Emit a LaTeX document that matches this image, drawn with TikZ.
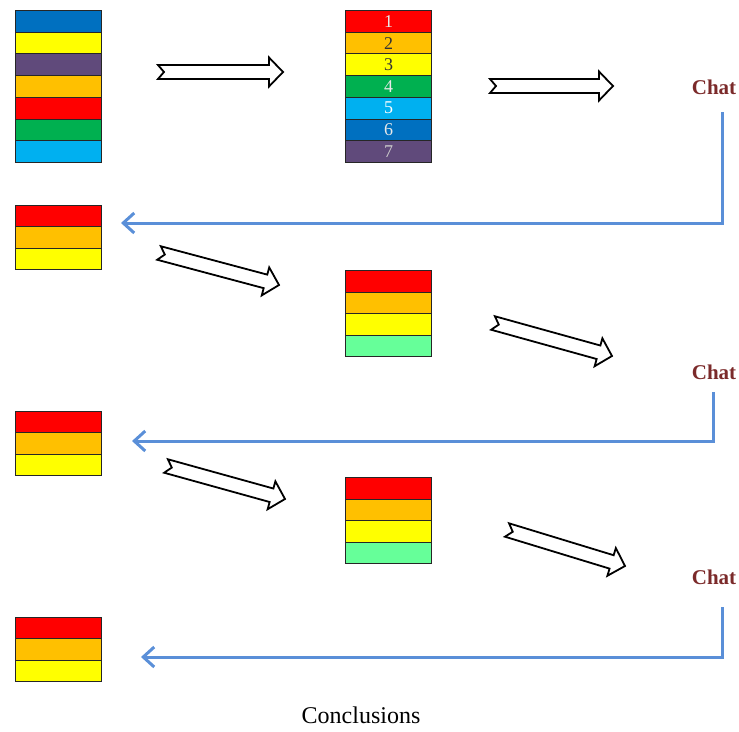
\documentclass[tikz,border=0pt]{standalone}
\usepackage{fontspec}
\setmainfont{Liberation Serif}
\usetikzlibrary{calc,arrows.meta}
\definecolor{cdblue}{HTML}{0070C0}
\definecolor{cyel}{HTML}{FFFF00}
\definecolor{cpurp}{HTML}{604A7B}
\definecolor{corng}{HTML}{FFC000}
\definecolor{cred}{HTML}{FF0000}
\definecolor{cgreen}{HTML}{00B050}
\definecolor{clblue}{HTML}{00B0F0}
\definecolor{cmint}{HTML}{66FF99}
\definecolor{cchat}{HTML}{7B2A2A}
\definecolor{cline}{HTML}{5A8FD8}
\definecolor{cnum}{HTML}{E8E8E8}
\tikzset{
  barbox/.style={draw=black!85, line width=1pt, minimum width=86pt, minimum height=21.7pt,
    inner sep=0pt, anchor=north west, font=\fontsize{18}{18}\selectfont},
  blockarr/.style={draw=black, line width=1.8pt, fill=white, line join=miter},
  chat/.style={font=\fontsize{21}{21}\selectfont\bfseries, text=cchat, inner sep=1pt},
  feedback/.style={draw=cline, line width=3pt, -{Straight Barb[length=11pt,width=20pt,line width=3pt]}},
  caption/.style={font=\fontsize{24}{24}\selectfont}
}
\newcommand\blockarrow[2]{%
  \draw[blockarr] ($(#1)!7pt!90:(#2)$) -- ($(#2)!14pt!(#1)!7pt!-90:(#1)$)
    -- ($(#2)!14pt!(#1)!14.5pt!-90:(#1)$) -- (#2)
    -- ($(#2)!14pt!(#1)!14.5pt!90:(#1)$) -- ($(#2)!14pt!(#1)!7pt!90:(#1)$)
    -- ($(#1)!7pt!-90:(#2)$) -- ($(#1)!6pt!(#2)$) -- cycle;}
\begin{document}
\begin{tikzpicture}[x=1pt,y=-1pt]
\useasboundingbox (0,0) rectangle (739,731);
% stack 1 (unsorted)
\foreach \c [count=\i from 0] in {cdblue,cyel,cpurp,corng,cred,cgreen,clblue}
  \node[barbox, fill=\c] (sa-\i) at (15,{10+\i*21.7}) {};
% stack 2 (numbered)
\foreach \c/\t/\tc [count=\i from 0] in {cred/1/cnum,corng/2/black!80,cyel/3/black!80,cgreen/4/cnum,clblue/5/white,cdblue/6/cnum,cpurp/7/black!20}
  \node[barbox, fill=\c, text=\tc] (sb-\i) at (345,{10+\i*21.7}) {\t};
% left stacks of three
\foreach \c [count=\i from 0] in {cred,corng,cyel} {
  \node[barbox, fill=\c, minimum height=21.3pt] (sc-\i) at (15,{205+\i*21.3}) {};
  \node[barbox, fill=\c, minimum height=21.3pt] (se-\i) at (15,{411+\i*21.3}) {};
  \node[barbox, fill=\c, minimum height=21.3pt] (sg-\i) at (15,{617+\i*21.3}) {};
}
% middle stacks of four
\foreach \c [count=\i from 0] in {cred,corng,cyel,cmint} {
  \node[barbox, fill=\c, minimum height=21.5pt] (sd-\i) at (345,{270+\i*21.5}) {};
  \node[barbox, fill=\c, minimum height=21.5pt] (sf-\i) at (345,{477+\i*21.5}) {};
}
% chat labels
\node[chat] (c1) at (714,87) {Chat};
\node[chat] (c2) at (714,372) {Chat};
\node[chat] (c3) at (714,577) {Chat};
% block arrows
\coordinate (a1s) at (158,72);  \coordinate (a1e) at (283,72);
\coordinate (a2s) at (490,86);  \coordinate (a2e) at (613,86);
\coordinate (a3s) at (159,253); \coordinate (a3e) at (279,285);
\coordinate (a4s) at (493,323); \coordinate (a4e) at (612,356);
\coordinate (a5s) at (166,466); \coordinate (a5e) at (285,499);
\coordinate (a6s) at (507,530); \coordinate (a6e) at (625,566);
\blockarrow{a1s}{a1e}
\blockarrow{a2s}{a2e}
\blockarrow{a3s}{a3e}
\blockarrow{a4s}{a4e}
\blockarrow{a5s}{a5e}
\blockarrow{a6s}{a6e}
% feedback arrows
\coordinate (f1s) at (722,112); \coordinate (f1e) at (121,223);
\coordinate (f2s) at (713,392); \coordinate (f2e) at (132,441);
\coordinate (f3s) at (722,607); \coordinate (f3e) at (141,657);
\draw[feedback] (f1s) |- (f1e);
\draw[feedback] (f2s) |- (f2e);
\draw[feedback] (f3s) |- (f3e);
% caption
\node[caption] (concl) at (361,715) {Conclusions};
\end{tikzpicture}
\end{document}
